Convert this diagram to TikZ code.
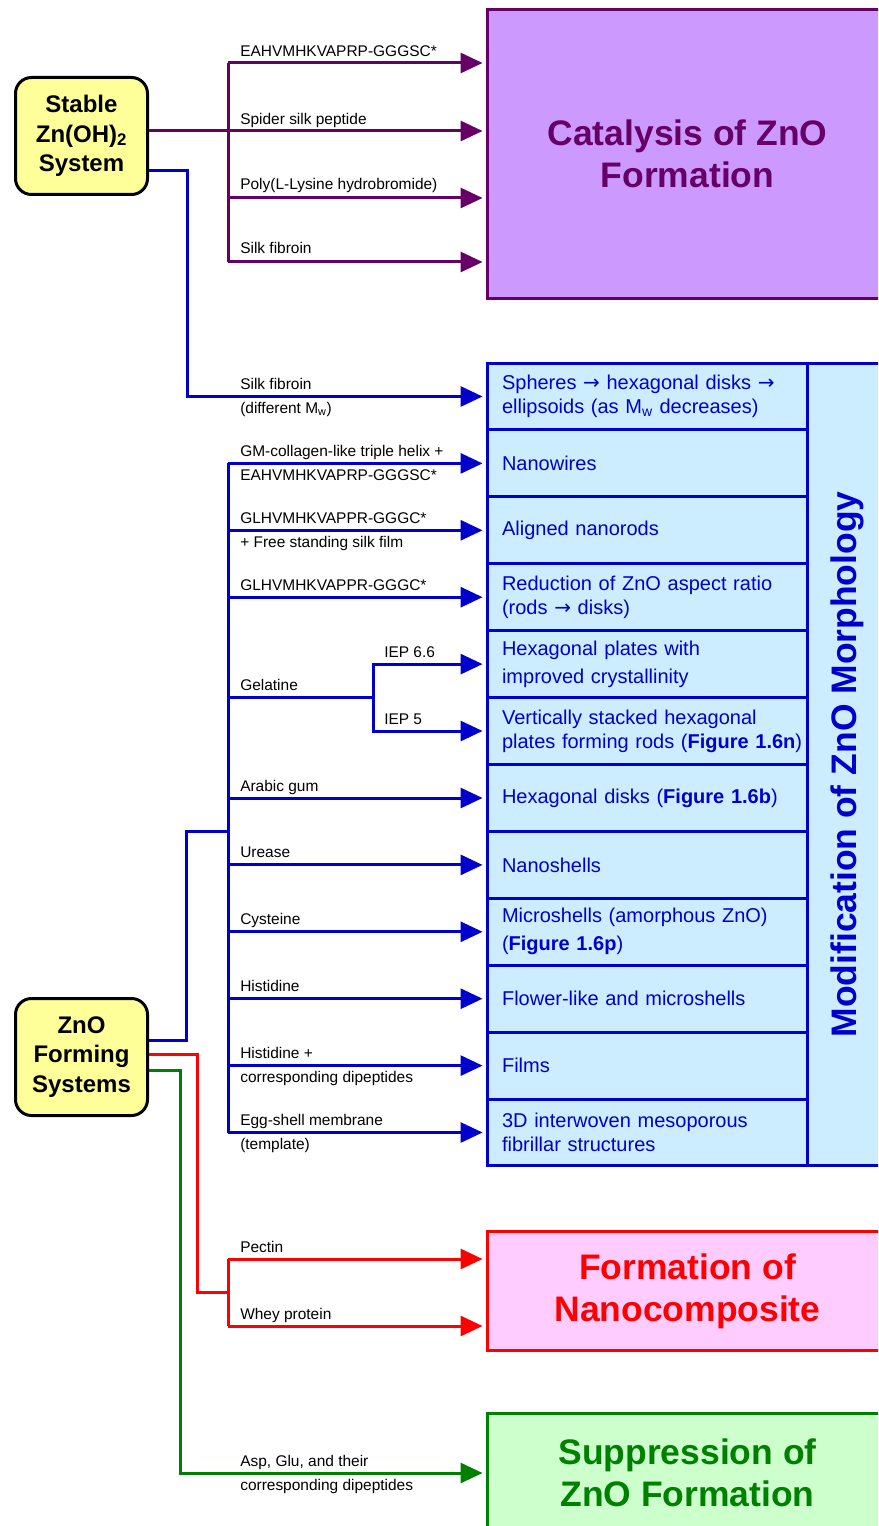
\documentclass[tikz,border=0pt]{standalone}
\usepackage{fontspec}
\setmainfont{Liberation Sans}
\newfontfamily\arrowfont{DejaVu Sans}
\usetikzlibrary{arrows.meta,positioning}
\definecolor{Plum}{HTML}{660066}
\definecolor{PalePlum}{HTML}{CC99FF}
\definecolor{Blue}{HTML}{0000CC}
\definecolor{PaleBlue}{HTML}{CCECFF}
\definecolor{Red}{HTML}{FF0000}
\definecolor{PalePink}{HTML}{FFCCFF}
\definecolor{Green}{HTML}{008000}
\definecolor{PaleGreen}{HTML}{CCFFCC}
\definecolor{PaleYellow}{HTML}{FFFF99}
\newcommand{\goesto}{{\arrowfont →}}

\begin{document}
\begin{tikzpicture}[x=0.75pt,y=-0.75pt,
  src/.style={draw=black,line width=2.25pt,fill=PaleYellow,rounded corners=12pt,minimum width=99pt,minimum height=87.75pt,align=center,font=\bfseries\fontsize{18}{22}\selectfont},
  goal/.style={line width=2.25pt,anchor=west,minimum width=300pt,align=center,font=\bfseries\fontsize{26.6}{31.5}\selectfont},
  row/.style={draw=Blue,line width=2.25pt,fill=PaleBlue,anchor=west,minimum height=50.19pt,text width=218.2pt,inner xsep=10.9pt,align=left,text=Blue,font=\fontsize{15}{18}\selectfont},
  lab/.style={anchor=base west,inner sep=0pt,font=\fontsize{11.6}{14}\selectfont},
  wire/.style={line width=2.25pt},
  arr/.style={wire,-{Triangle[length=16.5pt,width=15pt]},shorten >=2.6pt}
]
\clip (0,0) rectangle (878,1526);

% sources
\node[src] (stable) at (81.5,136) {Stable\\Zn(OH)\textsubscript{2}\\System};
\node[src] (forming) at (81.5,1057) {ZnO\\Forming\\Systems};

% outcomes
\node[goal,draw=Plum,fill=PalePlum,text=Plum,minimum height=216.75pt] (catal) at (486,154) {Catalysis of ZnO\\Formation};
\node[goal,draw=Red,fill=PalePink,text=Red,minimum height=89.25pt] (nanocomp) at (486,1291) {Formation of\\Nanocomposite};
\node[goal,draw=Green,fill=PaleGreen,text=Green,minimum height=88.5pt] (suppr) at (486,1472.5) {Suppression of\\ZnO Formation};

% morphology table
\node[row] (spheres) at (486,396.5) {Spheres \goesto{} hexagonal disks \goesto\\ellipsoids (as M\textsubscript{w} decreases)};
\node[row] (wires) at (486,463.4) {Nanowires};
\node[row] (rods) at (486,530.3) {Aligned nanorods};
\node[row] (ratio) at (486,597.2) {Reduction of ZnO aspect ratio\\(rods \goesto{} disks)};
\node[row] (plates) at (486,664.1) {Hexagonal plates with\\[3pt]improved crystallinity};
\node[row] (stacked) at (486,731.0) {Vertically stacked hexagonal\\\mbox{plates forming rods (\textbf{Figure 1.6n})}};
\node[row] (disks) at (486,798.0) {Hexagonal disks (\textbf{Figure 1.6b})};
\node[row] (nshells) at (486,864.9) {Nanoshells};
\node[row] (mshells) at (486,931.8) {Microshells (amorphous ZnO)\\[3pt](\textbf{Figure 1.6p})};
\node[row] (flower) at (486,998.7) {Flower-like and microshells};
\node[row] (films) at (486,1065.6) {Films};
\node[row] (fibril) at (486,1132.5) {3D interwoven mesoporous\\fibrillar structures};
\node[draw=Blue,line width=2.25pt,fill=PaleBlue,rotate=90,minimum width=602.2pt,minimum height=60pt,text=Blue,font=\bfseries\fontsize{26.6}{31.5}\selectfont] (morph) at (847,764.5) {Modification of ZnO Morphology};

% junctions
\coordinate (pTop) at (228,63);
\coordinate (pMid) at (228,131);
\coordinate (pPoly) at (228,198);
\coordinate (pBot) at (228,262);
\coordinate (sBlue) at (149,171);
\coordinate (kink1) at (187,0 |- spheres.west);
\coordinate (bTop) at (228,0 |- wires.west);
\coordinate (bBot) at (228,0 |- fibril.west);
\coordinate (gel) at (373,697.5);
\coordinate (fBlue) at (149,1040);
\coordinate (kink2) at (186,831);
\coordinate (fRed) at (149,1054);
\coordinate (kink3) at (197,1292);
\coordinate (rTop) at (228,1259);
\coordinate (rBot) at (228,1326);
\coordinate (fGreen) at (149,1070);
\coordinate (kink4) at (180,1473);

% catalysis
\draw[wire,Plum] (pTop) -- (pBot);
\draw[arr,Plum] (pTop) -- (catal.west |- pTop);
\draw[arr,Plum] (stable.east |- pMid) -- (catal.west |- pMid);
\draw[arr,Plum] (pPoly) -- (catal.west |- pPoly);
\draw[arr,Plum] (pBot) -- (catal.west |- pBot);

% morphology
\draw[arr,Blue] (sBlue) -| (kink1) -- (spheres.west);
\draw[wire,Blue] (forming.east |- fBlue) -| (kink2) -- (bTop |- kink2);
\draw[wire,Blue] (bTop) -- (bBot);
\draw[arr,Blue] (bTop) -- (wires.west);
\draw[arr,Blue] (bTop |- rods.west) -- (rods.west);
\draw[arr,Blue] (bTop |- ratio.west) -- (ratio.west);
\draw[wire,Blue] (bTop |- gel) -- (gel);
\draw[arr,Blue] (gel) |- (plates.west);
\draw[arr,Blue] (gel) |- (stacked.west);
\draw[arr,Blue] (bTop |- disks.west) -- (disks.west);
\draw[arr,Blue] (bTop |- nshells.west) -- (nshells.west);
\draw[arr,Blue] (bTop |- mshells.west) -- (mshells.west);
\draw[arr,Blue] (bTop |- flower.west) -- (flower.west);
\draw[arr,Blue] (bTop |- films.west) -- (films.west);
\draw[arr,Blue] (bBot) -- (fibril.west);

% nanocomposite
\draw[wire,Red] (forming.east |- fRed) -| (kink3) -- (rTop |- kink3);
\draw[wire,Red] (rTop) -- (rBot);
\draw[arr,Red] (rTop) -- (nanocomp.west |- rTop);
\draw[arr,Red] (rBot) -- (nanocomp.west |- rBot);

% suppression
\draw[arr,Green] (forming.east |- fGreen) -| (kink4) -- (suppr.west |- kink4);

% labels
\node[lab] (pepA) at (240,57) {EAHVMHKVAPRP-GGGSC*};
\node[lab] (spider) at (240,125) {Spider silk peptide};
\node[lab] (poly) at (240,190) {Poly(L-Lysine hydrobromide)};
\node[lab] (silkA) at (240,254) {Silk fibroin};
\node[lab] (silkB) at (240,389.5) {Silk fibroin};
\node[lab] (silkMw) at (240,413.5) {(different M\textsubscript{w})};
\node[lab] (collagen) at (240,456.4) {GM-collagen-like triple helix +};
\node[lab] (pepB) at (240,480.4) {EAHVMHKVAPRP-GGGSC*};
\node[lab] (pepC) at (240,523.3) {GLHVMHKVAPPR-GGGC*};
\node[lab] (film) at (240,547.3) {+ Free standing silk film};
\node[lab] (pepD) at (240,590.2) {GLHVMHKVAPPR-GGGC*};
\node[lab] (gelatine) at (240,690.5) {Gelatine};
\node[lab] (iepA) at (384,657.1) {IEP 6.6};
\node[lab] (iepB) at (384,724) {IEP 5};
\node[lab] (arabic) at (240,791) {Arabic gum};
\node[lab] (urease) at (240,857.9) {Urease};
\node[lab] (cys) at (240,924.8) {Cysteine};
\node[lab] (hisA) at (240,991.7) {Histidine};
\node[lab] (hisB) at (240,1058.6) {Histidine +};
\node[lab] (hisDi) at (240,1082.6) {corresponding dipeptides};
\node[lab] (egg) at (240,1125.5) {Egg-shell membrane};
\node[lab] (tmpl) at (240,1149.5) {(template)};
\node[lab] (pectin) at (240,1252) {Pectin};
\node[lab] (whey) at (240,1319) {Whey protein};
\node[lab] (asp) at (240,1466) {Asp, Glu, and their};
\node[lab] (aspDi) at (240,1490) {corresponding dipeptides};
\end{tikzpicture}
\end{document}
